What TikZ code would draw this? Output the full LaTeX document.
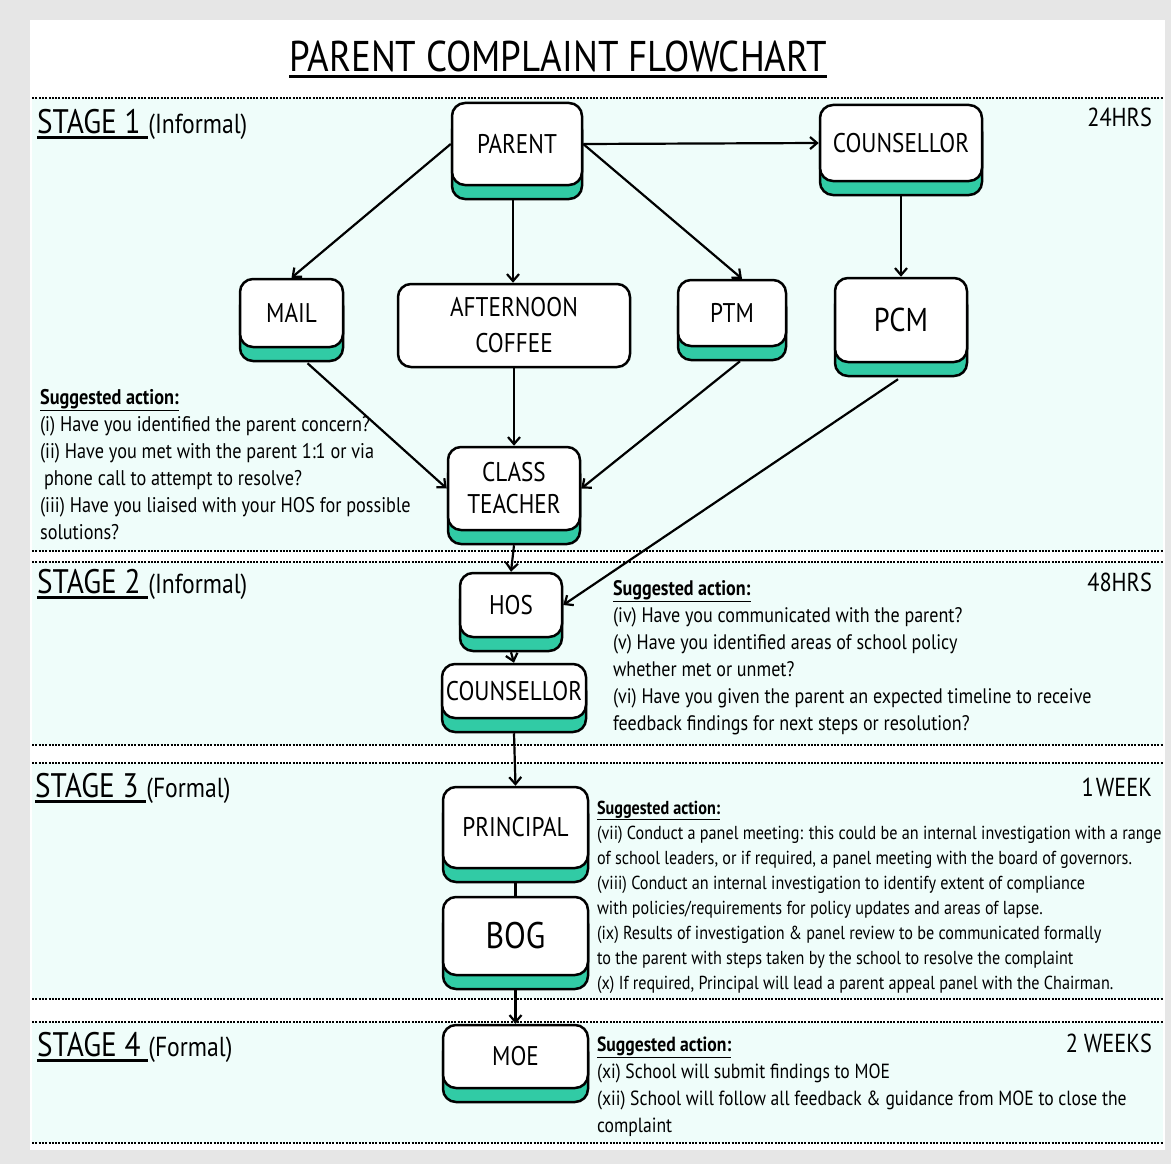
\documentclass[tikz,border=0pt]{standalone}
\usepackage{fontspec}
\setmainfont{PT Sans}[FakeStretch=0.86]
\usetikzlibrary{arrows.meta,shadows}

\definecolor{bandcyan}{HTML}{EFFDFA}
\definecolor{shadowteal}{HTML}{31CBA5}
\definecolor{pagegray}{HTML}{E6E6E6}
\newcommand{\thickul}[2]{\setbox0=\hbox{#2}\rlap{\rule[-6pt]{\wd0}{#1}}\box0}

\begin{document}
\begin{tikzpicture}[x=1pt,y=-1pt,
    >={Straight Barb[length=7pt,width=12pt]},
    line width=2.2pt,
    box/.style={draw, line width=2.5pt, fill=white, rounded corners=13pt,
        inner sep=0pt, align=center, font=\fontsize{27}{34}\selectfont},
    shbox/.style={box, general shadow={shadow yshift=-14pt, fill=shadowteal,
        draw=black, line width=2.5pt}},
    dotline/.style={line width=2.5pt, dash pattern=on 2pt off 1.3pt},
    note/.style={anchor=north west, align=left, inner sep=0pt},
    stagelbl/.style={anchor=base west, inner sep=0pt, font=\fontsize{34}{34}\selectfont},
    timelbl/.style={anchor=base east, inner sep=0pt, font=\fontsize{26}{26}\selectfont}]

    \fill[pagegray] (0,0) rectangle (1171,1164);
    \useasboundingbox (0,0) rectangle (1171,1164);
    \fill[white] (30,20) rectangle (1165,1150);

    % stage bands
    \fill[bandcyan] (32,98) rectangle (1163,551);
    \fill[bandcyan] (32,562) rectangle (1163,745);
    \fill[bandcyan] (32,763) rectangle (1163,999);
    \fill[bandcyan] (32,1022) rectangle (1163,1143);
    \foreach \y in {98,551,562,745,763,999,1022,1143}
        \draw[dotline] (32,\y) -- (1163,\y);

    \node[anchor=base, inner sep=0pt, font=\fontsize{43}{43}\selectfont] (title) at (558,72)
        {\thickul{2.8pt}{PARENT COMPLAINT FLOWCHART}};

    \node[stagelbl] (st1) at (36,133) {\thickul{3pt}{STAGE 1\ }{\fontsize{27.5}{27.5}\selectfont(Informal)}};
    \node[stagelbl] (st2) at (36,593) {\thickul{3pt}{STAGE 2\ }{\fontsize{27.5}{27.5}\selectfont(Informal)}};
    \node[stagelbl] (st3) at (34,797) {\thickul{3pt}{STAGE 3\ }{\fontsize{27.5}{27.5}\selectfont(Formal)}};
    \node[stagelbl] (st4) at (36,1056) {\thickul{3pt}{STAGE 4\ }{\fontsize{27.5}{27.5}\selectfont(Formal)}};

    \node[timelbl] (t1) at (1153,127) {24HRS};
    \node[timelbl] (t2) at (1153,591) {48HRS};
    \node[timelbl] (t3) at (1153,796) {1\kern2pt WEEK};
    \node[timelbl] (t4) at (1153,1052) {2 WEEKS};

    % boxes
    \node[shbox, minimum width=130, minimum height=82] (PA) at (517,144) {PARENT};
    \node[shbox, minimum width=162, minimum height=76] (CO1) at (901,143) {COUNSELLOR};
    \node[shbox, minimum width=103, minimum height=68] (MA) at (291.5,313) {MAIL};
    \node[box, minimum width=232, minimum height=83, font=\fontsize{27}{36}\selectfont] (AC) at (514,325.5) {AFTERNOON\\COFFEE};
    \node[shbox, minimum width=108, minimum height=66] (PT) at (732,313) {PTM};
    \node[shbox, minimum width=132, minimum height=84, font=\fontsize{33}{33}\selectfont] (PC) at (901,320) {PCM};
    \node[shbox, minimum width=132, minimum height=83, font=\fontsize{27}{32}\selectfont] (CT) at (514,488.5) {CLASS\\TEACHER};
    \node[shbox, minimum width=102, minimum height=64] (HO) at (511,605) {HOS};
    \node[shbox, minimum width=144, minimum height=54] (CO2) at (514,691) {COUNSELLOR};
    \node[shbox, minimum width=145, minimum height=81] (PR) at (515.5,827.5) {PRINCIPAL};
    \node[shbox, minimum width=145, minimum height=78, font=\fontsize{37}{37}\selectfont] (BO) at (515.5,936) {BOG};
    \node[shbox, minimum width=145, minimum height=63] (MO) at (515.5,1056.5) {MOE};

    % connectors
    \draw[->] (PA.east) -- (CO1.west);
    \draw[->] (PA.west) -- (MA.north);
    \draw[->] ([yshift=-14pt,xshift=-4pt]PA.south) -- ([xshift=-1pt]AC.north);
    \draw[->] (PA.east) -- ([xshift=10pt]PT.north);
    \draw[->] ([yshift=-14pt]CO1.south) -- (PC.north);
    \draw[->] ([shift={(16,15)}]MA.south) -- (CT.west);
    \draw[->] (AC.south) -- (CT.north);
    \draw[->] ([shift={(8,14)}]PT.south) -- (CT.east);
    \draw[->] ([shift={(-3,16)}]PC.south) -- (HO.east);
    \draw[->] ([yshift=-14pt]CT.south) -- (HO.north);
    \draw[->] ([yshift=-14pt]HO.south) -- (CO2.north);
    \draw[->] ([yshift=-14pt]CO2.south) -- (PR.north);
    \draw ([yshift=-14pt]PR.south) -- (BO.north);
    \draw[->] ([yshift=-14pt]BO.south) -- (MO.north);

    % suggested actions
    \node[note, font=\fontsize{21.2}{27}\selectfont] (act1) at (39,388)
        {\underline{\textbf{Suggested action:}}\\
         (i) Have you identified the parent concern?\\
         (ii) Have you met with the parent 1:1 or via\\
         \hspace{4pt}phone call to attempt to resolve?\\
         (iii) Have you liaised with your HOS for possible\\
         solutions?};
    \node[note, font=\fontsize{21}{27}\selectfont] (act2) at (612,579)
        {\underline{\textbf{Suggested action:}}\\
         (iv) Have you communicated with the parent?\\
         (v) Have you identified areas of school policy\\
         whether met or unmet?\\
         (vi) Have you given the parent an expected timeline to receive\\
         feedback findings for next steps or resolution?};
    \node[note, font=\fontsize{18.8}{25}\selectfont] (act3) at (596,799.5)
        {\underline{\textbf{Suggested action:}}\\
         (vii) Conduct a panel meeting: this could be an internal investigation with a range\\
         of school leaders, or if required, a panel meeting with the board of governors.\\
         (viii) Conduct an internal investigation to identify extent of compliance\\
         with policies/requirements for policy updates and areas of lapse.\\
         (ix) Results of investigation \& panel review to be communicated formally\\
         to the parent with steps taken by the school to resolve the complaint\\
         (x) If required, Principal will lead a parent appeal panel with the Chairman.};
    \node[note, font=\fontsize{20.5}{27}\selectfont] (act4) at (596,1036)
        {\underline{\textbf{Suggested action:}}\\
         (xi) School will submit findings to MOE\\
         (xii) School will follow all feedback \& guidance from MOE to close the\\
         complaint};
\end{tikzpicture}
\end{document}
